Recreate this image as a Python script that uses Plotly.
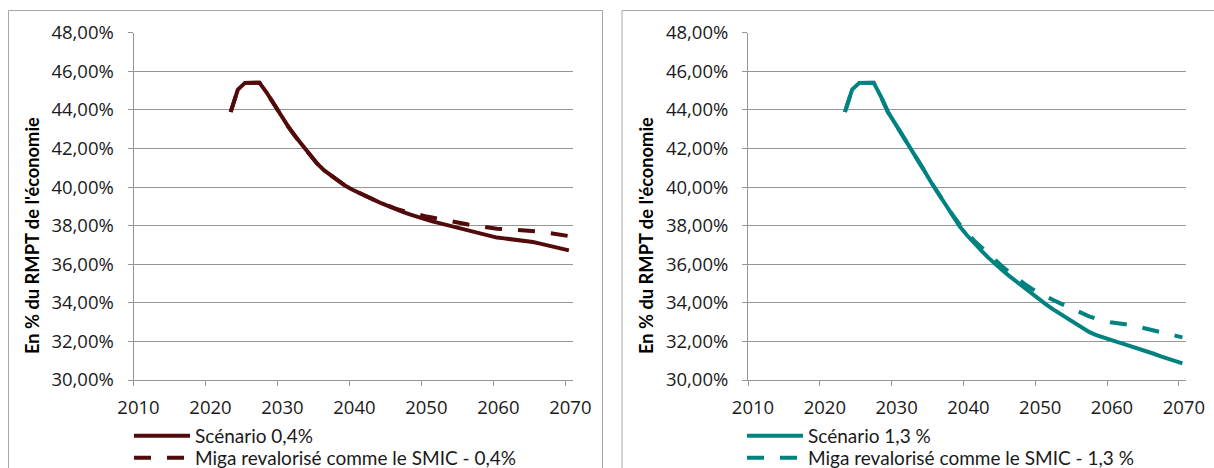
import plotly.graph_objects as go

W, H = 1214, 468

years = list(range(2023, 2071))

# Left panel: scénario 0,4 %
scen_04 = [43.89, 45.05, 45.40, 45.41, 45.41, 44.90, 44.30, 43.70, 43.13, 42.62,
           42.13, 41.64, 41.22, 40.86, 40.58, 40.30, 40.05, 39.85, 39.66, 39.50,
           39.32, 39.15, 38.99, 38.84, 38.70, 38.57, 38.44, 38.32, 38.22, 38.13,
           38.03, 37.94, 37.84, 37.73, 37.63, 37.53, 37.45, 37.38, 37.34, 37.30,
           37.27, 37.22, 37.15, 37.07, 36.97, 36.88, 36.80, 36.72]
miga_04 = [43.89, 45.05, 45.40, 45.41, 45.41, 44.90, 44.30, 43.70, 43.13, 42.62,
           42.13, 41.64, 41.22, 40.86, 40.58, 40.30, 40.05, 39.85, 39.66, 39.50,
           39.32, 39.16, 39.00, 38.87, 38.76, 38.66, 38.57, 38.49, 38.42, 38.34,
           38.26, 38.19, 38.13, 38.06, 38.00, 37.94, 37.88, 37.84, 37.82, 37.80,
           37.79, 37.76, 37.73, 37.69, 37.64, 37.58, 37.52, 37.46]

# Right panel: scénario 1,3 %
scen_13 = [43.89, 45.05, 45.40, 45.41, 45.41, 44.70, 43.88, 43.29, 42.70, 42.12,
           41.50, 40.88, 40.25, 39.66, 39.08, 38.51, 37.95, 37.50, 37.08, 36.70,
           36.33, 35.98, 35.66, 35.36, 35.07, 34.78, 34.47, 34.17, 33.92, 33.66,
           33.42, 33.19, 32.96, 32.72, 32.49, 32.33, 32.19, 32.07, 31.96, 31.85,
           31.74, 31.62, 31.50, 31.36, 31.22, 31.09, 30.97, 30.86]
miga_13 = [43.89, 45.05, 45.40, 45.41, 45.41, 44.70, 43.88, 43.29, 42.70, 42.12,
           41.50, 40.88, 40.25, 39.66, 39.08, 38.55, 38.05, 37.62, 37.22, 36.88,
           36.52, 36.17, 35.86, 35.55, 35.25, 34.98, 34.73, 34.52, 34.33, 34.15,
           33.97, 33.79, 33.62, 33.45, 33.30, 33.18, 33.07, 32.99, 32.94, 32.90,
           32.84, 32.75, 32.65, 32.56, 32.47, 32.39, 32.30, 32.21]

x_tick_labels = ["2010", "2020", "2030", "2040", "2050", "2060", "2070"]
x_tick_pos = [2009.5, 2019.5, 2029.5, 2039.5, 2049.5, 2059.5, 2069.5]
y_ticks = [30, 32, 34, 36, 38, 40, 42, 44, 46, 48]
y_tick_labels = ["30,00%", "32,00%", "34,00%", "36,00%", "38,00%",
                 "40,00%", "42,00%", "44,00%", "46,00%", "48,00%"]

names = ["Scénario 0,4%", "Miga revalorisé comme le SMIC - 0,4%",
         "Scénario 1,3 %", "Miga revalorisé comme le SMIC - 1,3 %"]
y_title = "En % du RMPT de l'économie"

MAROON = "#520A0A"
TEAL = "#008280"
GRID = "#969696"
NUMFONT = "Open Sans"
FONT = "Lato"
TXT = "#1A1A1A"

fig = go.Figure()
fig.add_trace(go.Scatter(x=years, y=scen_04, mode="lines", name=names[0],
                         line=dict(color=MAROON, width=4), xaxis="x", yaxis="y", legend="legend"))
fig.add_trace(go.Scatter(x=years, y=miga_04, mode="lines", name=names[1],
                         line=dict(color=MAROON, width=4, dash="17px,16px"), xaxis="x", yaxis="y", legend="legend2"))
fig.add_trace(go.Scatter(x=years, y=scen_13, mode="lines", name=names[2],
                         line=dict(color=TEAL, width=4), xaxis="x2", yaxis="y2", legend="legend3"))
fig.add_trace(go.Scatter(x=years, y=miga_13, mode="lines", name=names[3],
                         line=dict(color=TEAL, width=4, dash="17px,16px"), xaxis="x2", yaxis="y2", legend="legend4"))

ydom = [1 - 380 / H, 1 - 32.7 / H]
tickfont = dict(family=NUMFONT, size=18.5, color=TXT)

def xaxis(domain, anchor):
    return dict(domain=domain, anchor=anchor, range=[2009.5, 2070.5],
                tickmode="array", tickvals=x_tick_pos, ticktext=x_tick_labels,
                ticks="outside", ticklen=5, tickcolor=GRID, ticklabelshift=5,
                ticklabelstandoff=6, automargin=False,
                showline=True, linecolor=GRID, linewidth=1, showgrid=False,
                zeroline=False, tickfont=tickfont, fixedrange=True)

def yaxis(anchor):
    return dict(domain=ydom, anchor=anchor, range=[30, 48],
                tickmode="array", tickvals=y_ticks, ticktext=y_tick_labels,
                ticks="outside", ticklen=5, tickcolor=GRID, ticklabelstandoff=10,
                showline=True, linecolor=GRID, linewidth=1, automargin=False,
                showgrid=True, gridcolor=GRID, gridwidth=1,
                zeroline=False, tickfont=tickfont, fixedrange=True)

legfont = dict(family=FONT, size=19, color=TXT)

def legend(xpx, toppx):
    return dict(x=xpx / W, y=1 - toppx / H, xanchor="left", yanchor="top",
                bgcolor="rgba(0,0,0,0)", font=legfont, itemwidth=56,
                maxheight=120, itemclick=False, itemdoubleclick=False)

fig.update_layout(
    width=W, height=H,
    margin=dict(l=0, r=0, t=0, b=0, pad=0, autoexpand=False),
    paper_bgcolor="white", plot_bgcolor="white",
    separators=", ",
    showlegend=True,
    xaxis=xaxis([133.5 / W, 572.5 / W], "y"),
    yaxis=yaxis("x"),
    xaxis2=xaxis([748 / W, 1186 / W], "y2"),
    yaxis2=yaxis("x2"),
    legend=legend(129, 417),
    legend2=legend(129, 439),
    legend3=legend(742, 417),
    legend4=legend(742, 439),
    shapes=[
        dict(type="rect", xref="paper", yref="paper", x0=8.5 / W, x1=602.5 / W,
             y0=-0.1, y1=1 - 10.5 / H, line=dict(color="#A6A6A6", width=1), layer="below"),
        dict(type="rect", xref="paper", yref="paper", x0=622 / W, x1=1.05,
             y0=-0.1, y1=1 - 10.5 / H, line=dict(color="#A6A6A6", width=1), layer="below"),
    ],
    annotations=[
        dict(text="<b>" + y_title + "</b>", xref="paper", yref="paper",
             x=32 / W, y=1 - 236 / H, xanchor="center", yanchor="middle",
             textangle=-90, showarrow=False,
             font=dict(family=FONT, size=18.3, color="#000000")),
        dict(text="<b>" + y_title + "</b>", xref="paper", yref="paper",
             x=(32 + 614) / W, y=1 - 236 / H, xanchor="center", yanchor="middle",
             textangle=-90, showarrow=False,
             font=dict(family=FONT, size=18.3, color="#000000")),
    ],
)

fig.write_html(
    "out.html",
    config={"displayModeBar": False},
    post_script="document.body.style.margin='0px'; document.body.style.overflow='hidden';",
)
